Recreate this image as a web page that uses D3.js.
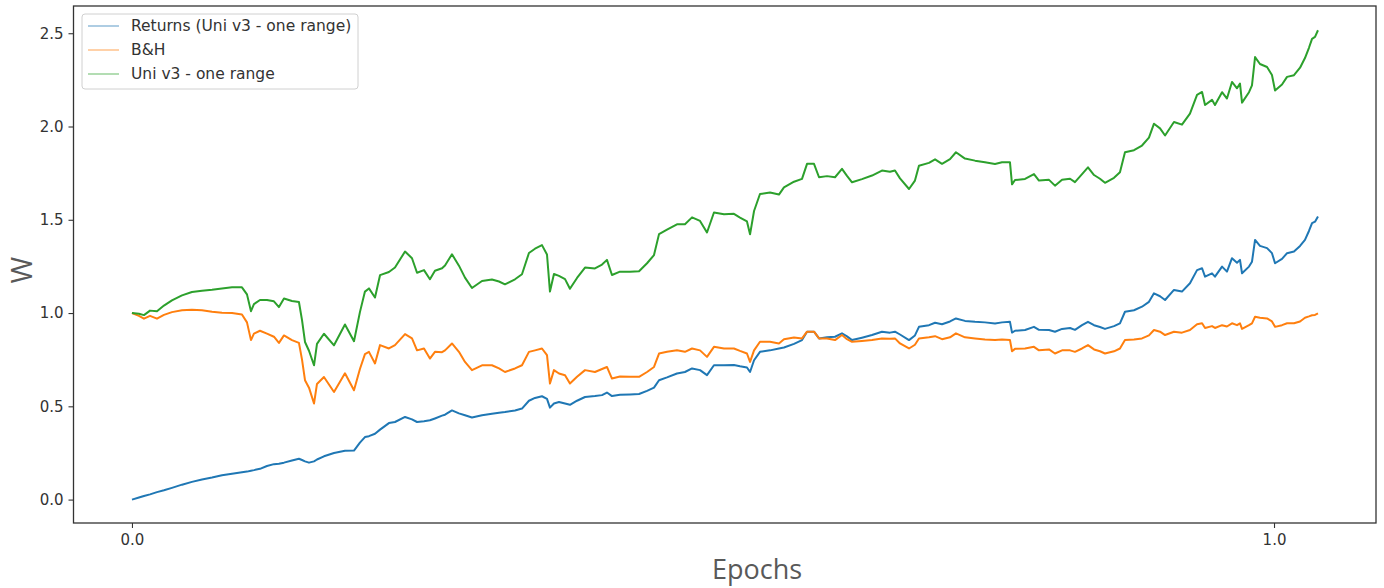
<!DOCTYPE html>
<html><head><meta charset="utf-8">
<script src="https://cdn.jsdelivr.net/npm/d3@7"></script>
<style>body{margin:0;background:#fff}svg{display:block}</style>
</head><body><svg id="c" width="1384" height="588"></svg>
<script>
const epochs = [0,0.0061,0.0105,0.0158,0.0219,0.0280,0.0350,0.0438,0.0525,0.0613,0.0701,0.0788,0.0876,0.0963,0.1007,0.1042,0.1068,0.1121,0.1182,0.1243,0.1287,0.1331,0.1401,0.1462,0.1489,0.1515,0.1550,0.1594,0.1620,0.1681,0.1769,0.1865,0.1944,0.1996,0.2040,0.2075,0.2128,0.2172,0.2250,0.2303,0.2391,0.2452,0.2496,0.2557,0.2609,0.2653,0.2715,0.2741,0.2802,0.2863,0.2916,0.2977,0.3065,0.3152,0.3214,0.3266,0.3354,0.3415,0.3476,0.3529,0.3590,0.3634,0.3660,0.3695,0.3739,0.3792,0.3835,0.3897,0.3967,0.4054,0.4116,0.4159,0.4203,0.4273,0.4361,0.4440,0.4510,0.4571,0.4615,0.4685,0.4772,0.4842,0.4904,0.4974,0.5035,0.5096,0.5184,0.5271,0.5324,0.5385,0.5412,0.5447,0.5499,0.5587,0.5665,0.5709,0.5797,0.5867,0.5911,0.5972,0.6016,0.6086,0.6156,0.6217,0.6261,0.6305,0.6392,0.6480,0.6567,0.6637,0.6681,0.6725,0.6804,0.6856,0.6891,0.6979,0.7032,0.7093,0.7163,0.7215,0.7294,0.7382,0.7469,0.7557,0.7618,0.7688,0.7706,0.7732,0.7820,0.7898,0.7942,0.8030,0.8082,0.8144,0.8214,0.8257,0.8319,0.8371,0.8424,0.8476,0.8520,0.8599,0.8651,0.8695,0.8774,0.8844,0.8905,0.8949,0.9002,0.9046,0.9124,0.9194,0.9264,0.9326,0.9370,0.9396,0.9457,0.9483,0.9545,0.9588,0.9632,0.9676,0.9702,0.9720,0.9781,0.9807,0.9834,0.9877,0.9939,0.9982,1.0009,1.0070,1.0114,1.0175,1.0228,1.0271,1.0306,1.0333,1.0359,1.0385];

const returnsUni = [0.000,0.011,0.019,0.028,0.040,0.050,0.063,0.080,0.095,0.108,0.118,0.130,0.138,0.146,0.150,0.155,0.158,0.165,0.180,0.190,0.192,0.198,0.210,0.219,0.212,0.205,0.198,0.205,0.215,0.232,0.250,0.262,0.263,0.305,0.335,0.340,0.353,0.375,0.410,0.416,0.443,0.430,0.416,0.420,0.425,0.435,0.450,0.455,0.478,0.462,0.452,0.440,0.452,0.460,0.466,0.470,0.478,0.488,0.530,0.545,0.554,0.540,0.493,0.515,0.523,0.515,0.508,0.530,0.550,0.555,0.560,0.574,0.555,0.562,0.564,0.566,0.583,0.600,0.640,0.655,0.676,0.684,0.703,0.694,0.667,0.720,0.720,0.722,0.715,0.708,0.684,0.747,0.792,0.800,0.810,0.815,0.835,0.855,0.900,0.900,0.864,0.870,0.873,0.891,0.875,0.855,0.868,0.882,0.900,0.895,0.900,0.885,0.855,0.880,0.926,0.935,0.948,0.940,0.955,0.971,0.958,0.953,0.950,0.944,0.950,0.953,0.895,0.905,0.909,0.926,0.910,0.909,0.900,0.915,0.920,0.910,0.935,0.953,0.935,0.925,0.915,0.930,0.945,1.007,1.015,1.034,1.060,1.106,1.090,1.070,1.124,1.115,1.160,1.230,1.240,1.195,1.213,1.195,1.249,1.222,1.294,1.270,1.285,1.213,1.249,1.275,1.392,1.360,1.348,1.321,1.267,1.290,1.321,1.330,1.360,1.392,1.440,1.482,1.490,1.518];

const buyHold = [1.000,0.985,0.970,0.985,0.970,0.990,1.005,1.015,1.018,1.015,1.007,1.002,1.000,0.992,0.950,0.855,0.890,0.905,0.890,0.873,0.840,0.880,0.855,0.840,0.750,0.640,0.600,0.515,0.620,0.657,0.577,0.677,0.586,0.700,0.780,0.792,0.730,0.828,0.810,0.828,0.887,0.864,0.800,0.810,0.756,0.792,0.790,0.800,0.837,0.792,0.738,0.694,0.720,0.720,0.703,0.684,0.703,0.720,0.792,0.800,0.810,0.774,0.622,0.694,0.676,0.667,0.622,0.658,0.694,0.684,0.700,0.711,0.649,0.660,0.658,0.658,0.684,0.711,0.783,0.792,0.800,0.792,0.810,0.800,0.765,0.819,0.810,0.810,0.797,0.783,0.738,0.800,0.846,0.846,0.837,0.859,0.869,0.864,0.900,0.900,0.864,0.864,0.855,0.882,0.860,0.846,0.850,0.855,0.864,0.862,0.864,0.837,0.810,0.830,0.864,0.870,0.876,0.860,0.870,0.891,0.870,0.864,0.858,0.855,0.858,0.855,0.795,0.808,0.810,0.819,0.800,0.805,0.783,0.800,0.800,0.792,0.810,0.828,0.805,0.795,0.783,0.795,0.810,0.855,0.858,0.864,0.880,0.909,0.900,0.882,0.900,0.895,0.909,0.940,0.945,0.920,0.930,0.920,0.935,0.928,0.945,0.935,0.945,0.915,0.935,0.945,0.980,0.975,0.971,0.955,0.926,0.935,0.945,0.945,0.955,0.975,0.982,0.988,0.990,0.998];

const uniV3 = [1.000,0.996,0.989,1.013,1.010,1.040,1.068,1.095,1.113,1.120,1.125,1.132,1.138,1.138,1.100,1.010,1.048,1.070,1.070,1.063,1.032,1.078,1.065,1.059,0.962,0.845,0.798,0.720,0.835,0.889,0.827,0.939,0.849,1.005,1.115,1.132,1.083,1.203,1.220,1.244,1.330,1.294,1.216,1.230,1.181,1.227,1.240,1.255,1.315,1.254,1.190,1.134,1.172,1.180,1.169,1.154,1.181,1.208,1.322,1.345,1.364,1.314,1.115,1.209,1.199,1.182,1.130,1.188,1.244,1.239,1.260,1.285,1.204,1.222,1.222,1.224,1.267,1.311,1.423,1.447,1.476,1.476,1.513,1.494,1.432,1.539,1.530,1.532,1.512,1.491,1.422,1.547,1.638,1.646,1.635,1.674,1.704,1.719,1.800,1.800,1.728,1.734,1.728,1.773,1.735,1.701,1.718,1.737,1.764,1.757,1.764,1.722,1.665,1.710,1.790,1.805,1.824,1.800,1.825,1.862,1.828,1.817,1.808,1.799,1.808,1.808,1.690,1.713,1.719,1.745,1.710,1.714,1.683,1.715,1.720,1.702,1.745,1.781,1.740,1.720,1.698,1.725,1.755,1.862,1.873,1.898,1.940,2.015,1.990,1.952,2.024,2.010,2.069,2.170,2.185,2.115,2.143,2.115,2.184,2.150,2.239,2.205,2.230,2.128,2.184,2.220,2.372,2.335,2.319,2.276,2.193,2.225,2.266,2.275,2.315,2.367,2.422,2.470,2.480,2.516];

const seriesNames = ["Returns (Uni v3 - one range)", "B&H", "Uni v3 - one range"];
const seriesColors = ["#1f77b4", "#ff7f0e", "#2ca02c"];
const yTicks = [0, 0.5, 1.0, 1.5, 2.0, 2.5];
const xTicks = [0, 1.0];

const svg = d3.select("#c");
const L = 73.5, R = 1376, T = 6, B = 523;
const x = d3.scaleLinear().domain([-0.0512, 1.0893]).range([L, R]);
const y = d3.scaleLinear().domain([-0.1255, 2.646]).range([B, T]);

const series = [returnsUni, buyHold, uniV3];
const line = d3.line().x((d, i) => x(epochs[i])).y(d => y(d));
series.forEach((s, k) => {
  svg.append("path").datum(s).attr("d", line)
    .attr("fill", "none").attr("stroke", seriesColors[k])
    .attr("stroke-width", 2).attr("stroke-linejoin", "round");
});

// axes
const fontTick = "DejaVu Sans, sans-serif";
const gy = svg.append("g").attr("transform", `translate(${L},0)`)
  .call(d3.axisLeft(y).tickValues(yTicks).tickFormat(d3.format(".1f")).tickSize(5).tickPadding(5));
const gx = svg.append("g").attr("transform", `translate(0,${B})`)
  .call(d3.axisBottom(x).tickValues(xTicks).tickFormat(d3.format(".1f")).tickSize(5).tickPadding(6));
[gy, gx].forEach(g => {
  g.select(".domain").remove();
  g.selectAll(".tick line").attr("stroke", "#333").attr("stroke-width", 1.1);
  g.selectAll(".tick text").attr("fill", "#333").style("font-family", fontTick).style("font-size", "15px");
});

// frame
svg.append("rect").attr("x", L).attr("y", T).attr("width", R - L).attr("height", B - T)
  .attr("fill", "none").attr("stroke", "#333").attr("stroke-width", 1.3);

// axis labels
svg.append("text").attr("x", 757).attr("y", 579).attr("text-anchor", "middle")
  .style("font-family", "Open Sans, sans-serif").style("font-size", "27px").attr("fill", "#595959").text("Epochs");
svg.append("text").attr("transform", "translate(32,270) rotate(-90)").attr("text-anchor", "middle")
  .style("font-family", "Open Sans, sans-serif").style("font-size", "29px").attr("fill", "#595959").text("W");

// legend
const lg = svg.append("g");
lg.append("rect").attr("x", 82).attr("y", 14).attr("width", 276).attr("height", 75).attr("rx", 3)
  .attr("fill", "#fff").attr("fill-opacity", 0.8).attr("stroke", "#d0d0d0").attr("stroke-width", 1);
seriesNames.forEach((n, k) => {
  const yy = 26 + k * 24;
  lg.append("line").attr("x1", 88).attr("x2", 119).attr("y1", yy).attr("y2", yy)
    .attr("stroke", seriesColors[k]).attr("stroke-width", 1.2).attr("stroke-opacity", 0.6);
  lg.append("text").attr("x", 131).attr("y", yy + 5).style("font-family", fontTick).style("font-size", "15.5px")
    .attr("fill", "#333").text(n);
});
</script></body></html>
